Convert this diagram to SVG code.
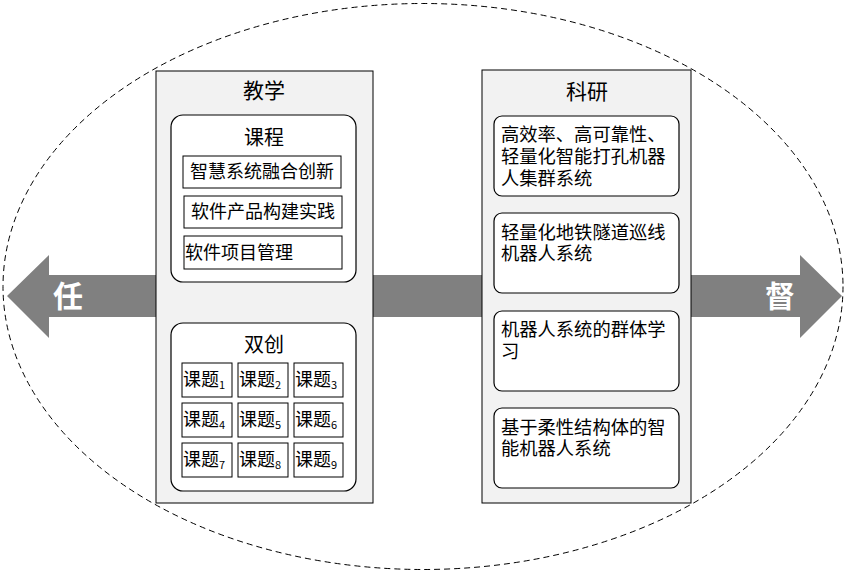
<svg xmlns="http://www.w3.org/2000/svg" width="846" height="574" viewBox="0 0 846 574">
<style>
text{font-family:"Noto Sans CJK SC","Noto Sans CJK JP",sans-serif;fill:#000}
.panel{fill:#f2f2f2;stroke:#000;stroke-width:1}
.grp{fill:#fff;stroke:#000;stroke-width:1.2}
.box{fill:#fff;stroke:#000;stroke-width:1}
.t18{font-size:18px}
.rt{font-size:18.3px}
.title{font-size:21px;text-anchor:middle}
.sub{font-size:11px}
.arrowtxt{font-size:30px;fill:#fff;text-anchor:middle;font-weight:bold}
</style>
<rect width="846" height="574" fill="#fff"/>
<g id="boundary">
<ellipse cx="423" cy="286.5" rx="420" ry="283" fill="none" stroke="#000" stroke-width="1" stroke-dasharray="6,4"/>
</g>
<g id="connectors">
<polygon points="7,296 49,255 49,275 800,275 800,255 842,296 800,338 800,317 49,317 49,338" fill="#808080"/>
</g>
<g id="ren"><text class="arrowtxt" x="68" y="307">任</text></g>
<g id="du"><text class="arrowtxt" x="780" y="307">督</text></g>
<g id="teaching">
<rect class="panel" x="156" y="71" width="217" height="432"/>
<text class="title" x="264" y="98">教学</text>
<g id="course">
<rect class="grp" x="171" y="115" width="185" height="167" rx="12"/>
<text class="title" x="264" y="145" style="font-size:20px">课程</text>
<rect class="box" x="183" y="156" width="158" height="32"/>
<text class="t18" x="262" y="178" text-anchor="middle">智慧系统融合创新</text>
<rect class="box" x="184" y="196" width="158" height="32"/>
<text class="t18" x="263" y="218" text-anchor="middle">软件产品构建实践</text>
<rect class="box" x="184" y="236" width="158" height="33"/>
<text class="t18" x="185" y="259">软件项目管理</text>
</g>
<g id="innovation">
<rect class="grp" x="171" y="323" width="185" height="168" rx="12"/>
<text class="title" x="264" y="352" style="font-size:20px">双创</text>
<g id="topics">
<rect class="box" x="182" y="363" width="50" height="34"/>
<text class="t18" x="183" y="386">课题<tspan class="sub" dy="3">1</tspan></text>
<rect class="box" x="238" y="363" width="50" height="34"/>
<text class="t18" x="239" y="386">课题<tspan class="sub" dy="3">2</tspan></text>
<rect class="box" x="294" y="363" width="49" height="34"/>
<text class="t18" x="295" y="386">课题<tspan class="sub" dy="3">3</tspan></text>
<rect class="box" x="182" y="403" width="50" height="34"/>
<text class="t18" x="183" y="426">课题<tspan class="sub" dy="3">4</tspan></text>
<rect class="box" x="238" y="403" width="50" height="34"/>
<text class="t18" x="239" y="426">课题<tspan class="sub" dy="3">5</tspan></text>
<rect class="box" x="294" y="403" width="49" height="34"/>
<text class="t18" x="295" y="426">课题<tspan class="sub" dy="3">6</tspan></text>
<rect class="box" x="182" y="443" width="50" height="34"/>
<text class="t18" x="183" y="466">课题<tspan class="sub" dy="3">7</tspan></text>
<rect class="box" x="238" y="443" width="50" height="34"/>
<text class="t18" x="239" y="466">课题<tspan class="sub" dy="3">8</tspan></text>
<rect class="box" x="294" y="443" width="49" height="34"/>
<text class="t18" x="295" y="466">课题<tspan class="sub" dy="3">9</tspan></text>
</g>
</g>
</g>
<g id="research">
<rect class="panel" x="482" y="70" width="209" height="433"/>
<text class="title" x="587" y="99">科研</text>
<g id="r1">
<rect class="grp" x="494" y="116" width="185" height="80" rx="8"/>
<text class="rt"><tspan x="501" y="141">高效率、高可靠性、</tspan><tspan x="501" y="163">轻量化智能打孔机器</tspan><tspan x="501" y="185">人集群系统</tspan></text>
</g>
<g id="r2">
<rect class="grp" x="494" y="213" width="185" height="80" rx="8"/>
<text class="rt"><tspan x="501" y="239">轻量化地铁隧道巡线</tspan><tspan x="501" y="260">机器人系统</tspan></text>
</g>
<g id="r3">
<rect class="grp" x="494" y="311" width="185" height="80" rx="8"/>
<text class="rt"><tspan x="501" y="336">机器人系统的群体学</tspan><tspan x="501" y="358">习</tspan></text>
</g>
<g id="r4">
<rect class="grp" x="494" y="408" width="185" height="80" rx="8"/>
<text class="rt"><tspan x="501" y="434">基于柔性结构体的智</tspan><tspan x="501" y="455">能机器人系统</tspan></text>
</g>
</g>
</svg>
